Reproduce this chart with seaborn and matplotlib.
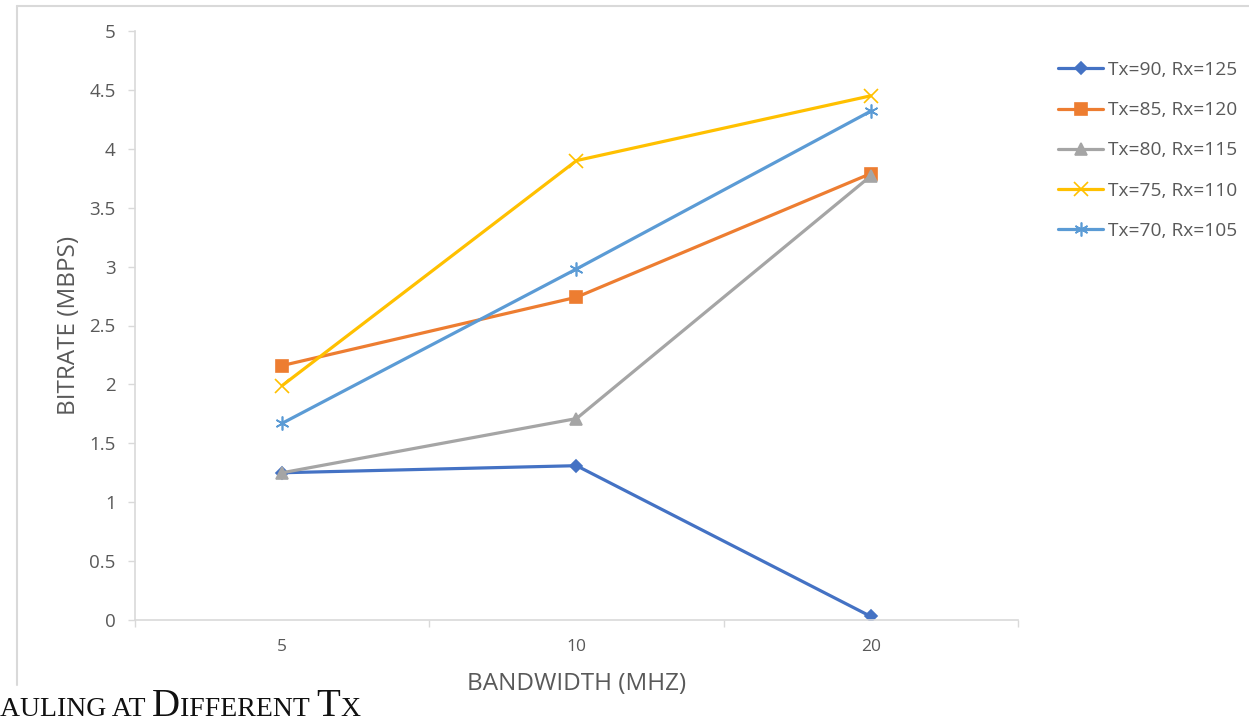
import numpy as np
import pandas as pd
import matplotlib
matplotlib.use("Agg")
import matplotlib.pyplot as plt
import seaborn as sns
from matplotlib.lines import Line2D

# ---- data ----
bandwidth = ["5", "10", "20"]
series_names = ["Tx=90, Rx=125", "Tx=85, Rx=120", "Tx=80, Rx=115", "Tx=75, Rx=110", "Tx=70, Rx=105"]
tx90 = [1.25, 1.31, 0.03]
tx85 = [2.16, 2.74, 3.79]
tx80 = [1.25, 1.71, 3.77]
tx75 = [1.99, 3.90, 4.45]
tx70 = [1.67, 2.98, 4.32]
yticks = [0, 0.5, 1, 1.5, 2, 2.5, 3, 3.5, 4, 4.5, 5]
ytick_labels = ["0", "0.5", "1", "1.5", "2", "2.5", "3", "3.5", "4", "4.5", "5"]

colors = ["#4472C4", "#ED7D31", "#A5A5A5", "#FFC000", "#5B9BD5"]
marker_list = ["D", "s", "^", "x", (6, 2, 0)]
marker_sizes = [6.5, 8.5, 8.5, 10, 10]

rows = []
for name, vals in zip(series_names, [tx90, tx85, tx80, tx75, tx70]):
    for i, (b, v) in enumerate(zip(bandwidth, vals)):
        rows.append({"pos": i, "bw": b, "bitrate": v, "series": name})
df = pd.DataFrame(rows)

sns.set_theme(style="white")
plt.rcParams["font.family"] = ["Open Sans", "DejaVu Sans"]

W, H = 1249, 727
fig = plt.figure(figsize=(W / 100, H / 100), dpi=100)
ax = fig.add_axes([135 / W, 1 - 620 / H, (1018 - 135) / W, (620 - 31) / H])

for name, c, m, ms in zip(series_names, colors, marker_list, marker_sizes):
    sub = df[df["series"] == name]
    sns.lineplot(data=sub, x="pos", y="bitrate", color=c, marker=m, markersize=ms,
                 markerfacecolor=c, markeredgecolor=c, markeredgewidth=1.2,
                 linewidth=2.3, ax=ax, legend=False)

ax.set_xlim(-0.5, 2.5)
ax.set_ylim(0, 5)
ax.set_yticks(yticks)
ax.set_yticklabels(ytick_labels)
ax.set_xticks([0, 1, 2])
ax.set_xticklabels(bandwidth)
ax.set_xticks([-0.5, 0.5, 1.5, 2.5], minor=True)
ax.tick_params(axis="x", which="major", length=0, pad=14, labelsize=12.5, labelcolor="#595959")
ax.tick_params(axis="x", which="minor", length=5, width=1, color="#D9D9D9", direction="out", bottom=True)
ax.tick_params(axis="y", which="major", length=5, width=1, color="#D9D9D9", direction="out", left=True,
               labelsize=13.5, labelcolor="#595959", pad=9)

for s in ["top", "right"]:
    ax.spines[s].set_visible(False)
for s in ["left", "bottom"]:
    ax.spines[s].set_color("#D9D9D9")
    ax.spines[s].set_linewidth(1.2)

ax.set_xlabel("BANDWIDTH (MHZ)", fontsize=17.5, color="#595959", labelpad=12)
ax.set_ylabel("BITRATE (MBPS)", fontsize=17.5, color="#595959", labelpad=6)

# legend
handles = [Line2D([], [], color=c, marker=m, markersize=ms, markerfacecolor=c, markeredgecolor=c,
                  linewidth=2.3, markeredgewidth=1.2)
           for c, m, ms in zip(colors, marker_list, marker_sizes)]
leg = fig.legend(handles, series_names, loc="upper left",
                 bbox_to_anchor=(1058 / W, 1 - 61 / H), frameon=False,
                 fontsize=13.8, labelcolor="#595959", handlelength=2.35, handletextpad=0.25,
                 labelspacing=1.16, borderaxespad=0, borderpad=0)

# chart border (left and top)
fig.add_artist(Line2D([17 / W, 17 / W], [1 - 685 / H, 1 - 6 / H], transform=fig.transFigure,
                      color="#D9D9D9", linewidth=1.5))
fig.add_artist(Line2D([17 / W, 1.0], [1 - 6 / H, 1 - 6 / H], transform=fig.transFigure,
                      color="#D9D9D9", linewidth=1.5))

# partial caption in small caps
pieces = [("AULING AT ", 20), ("D", 28), ("IFFERENT ", 20), ("T", 28), ("X", 20)]
fig.canvas.draw()
renderer = fig.canvas.get_renderer()
x = 0.0
base_y = 1 - 716 / H
for txt, size in pieces:
    t = fig.text(x, base_y, txt, fontsize=size, family="Liberation Serif", color="#111111",
                 va="baseline", ha="left")
    bb = t.get_window_extent(renderer=renderer)
    x += bb.width / W

fig.savefig("out.png", dpi=100)
